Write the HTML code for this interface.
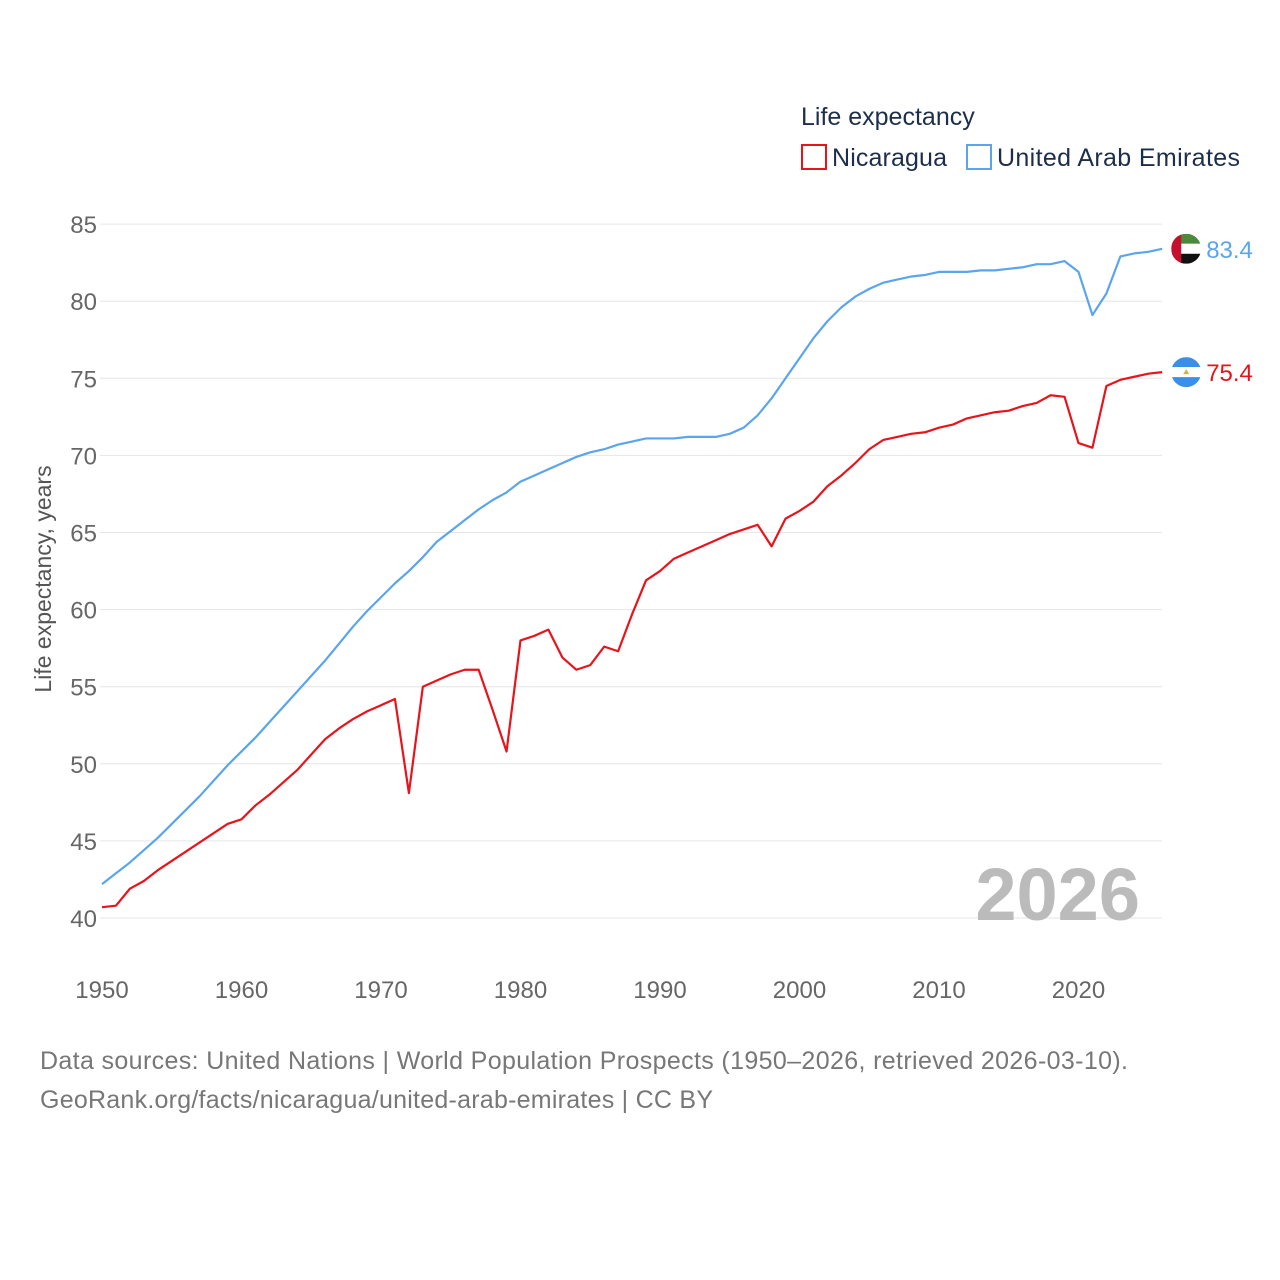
<!DOCTYPE html>
<html><head><meta charset="utf-8">
<style>
body{margin:0;background:#fff;font-family:"Liberation Sans",sans-serif;}
svg{display:block}
</style></head>
<body>
<svg id="chart" width="1280" height="1280" xmlns="http://www.w3.org/2000/svg">
<text x="801" y="125" font-size="25" fill="#1c2e4a">Life expectancy</text>
<g><rect x="802" y="145" width="24" height="24" fill="none" stroke="#e8141c" stroke-width="2"/><text x="832" y="166" font-size="25" fill="#1c2e4a" textLength="115">Nicaragua</text></g>
<g><rect x="967" y="145" width="24" height="24" fill="none" stroke="#5aa5ee" stroke-width="2"/><text x="997" y="166" font-size="25" fill="#1c2e4a" textLength="243">United Arab Emirates</text></g>
<text transform="translate(51,579) rotate(-90)" text-anchor="middle" font-size="23" fill="#555">Life expectancy, years</text>
<g id="grid"></g><g id="yticks"></g><g id="xticks"></g>
<text x="1140" y="920" text-anchor="end" font-size="74" font-weight="bold" fill="#bbb">2026</text>
<g id="series"></g>
<text x="40" y="1069" font-size="25" fill="#777" textLength="1088">Data sources: United Nations | World Population Prospects (1950–2026, retrieved 2026-03-10).</text>
<text x="40" y="1108" font-size="25" fill="#777" textLength="673">GeoRank.org/facts/nicaragua/united-arab-emirates | CC BY</text>
</svg>
<script>
const years=[];for(let y=1950;y<=2026;y++)years.push(y);
const nicaragua=[40.7,40.8,41.9,42.4,43.1,43.7,44.3,44.9,45.5,46.1,46.4,47.3,48.0,48.8,49.6,50.6,51.6,52.3,52.9,53.4,53.8,54.2,48.1,55.0,55.4,55.8,56.1,56.1,53.5,50.8,58.0,58.3,58.7,56.9,56.1,56.4,57.6,57.3,59.7,61.9,62.5,63.3,63.7,64.1,64.5,64.9,65.2,65.5,64.1,65.9,66.4,67.0,68.0,68.7,69.5,70.4,71.0,71.2,71.4,71.5,71.8,72.0,72.4,72.6,72.8,72.9,73.2,73.4,73.9,73.8,70.8,70.5,74.5,74.9,75.1,75.3,75.4];
const uae=[42.2,42.9,43.6,44.4,45.2,46.1,47.0,47.9,48.9,49.9,
50.8,51.7,52.7,53.7,54.7,55.7,56.7,57.8,58.9,59.9,
60.8,61.7,62.5,63.4,64.4,65.1,65.8,66.5,67.1,67.6,
68.3,68.7,69.1,69.5,69.9,70.2,70.4,70.7,70.9,71.1,
71.1,71.1,71.2,71.2,71.2,71.4,71.8,72.6,73.7,75.0,
76.3,77.6,78.7,79.6,80.3,80.8,81.2,81.4,81.6,81.7,
81.9,81.9,81.9,82.0,82.0,82.1,82.2,82.4,82.4,82.6,
81.9,79.1,80.5,82.9,83.1,83.2,83.4];
const yTicks=[40,45,50,55,60,65,70,75,80,85];
const xTicks=[1950,1960,1970,1980,1990,2000,2010,2020];
const X=y=>102+(y-1950)*13.95, Y=v=>918-(v-40)*15.42;
const NS="http://www.w3.org/2000/svg";
function mk(tag,attrs,parent){const e=document.createElementNS(NS,tag);for(const k in attrs)e.setAttribute(k,attrs[k]);parent.appendChild(e);return e;}
const grid=document.getElementById('grid'),yt=document.getElementById('yticks'),xt=document.getElementById('xticks'),ser=document.getElementById('series');
yTicks.forEach(v=>{
 const l=mk('line',{x1:100,x2:1162,y1:Y(v),y2:Y(v),stroke:'#e6e6e6','stroke-width':1},grid);
 
 
 const t=mk('text',{x:97,y:Y(v)+9,'text-anchor':'end','font-size':24,fill:'#666'},yt);t.textContent=v;
 
 
});
xTicks.forEach(v=>{
 const t=mk('text',{x:X(v),y:998,'text-anchor':'middle','font-size':24,fill:'#666'},xt);t.textContent=v;
 
 
});
function line(vals,color,name){
 const p=mk('polyline',{points:vals.map((v,i)=>X(years[i])+','+Y(v)).join(' '),fill:'none',stroke:color,'stroke-width':2.2,'stroke-linejoin':'round'},ser);
 
 
 const last=vals[vals.length-1],lx=X(years[vals.length-1]);
 const t=mk('text',{x:lx+44,y:Y(last)+9,'font-size':24,fill:color},ser);t.textContent=last.toFixed(1);
 
 
 return [lx+24,Y(last)];
}
const [ux,uy]=line(uae,'#5aa5ee','uae-line');
const [nx,ny]=line(nicaragua,'#e8141c','nicaragua-line');
const f1=mk('g',{},ser);


const c1=mk('clipPath',{id:'c1'},f1);mk('circle',{cx:ux,cy:uy,r:15},c1);
const g1=mk('g',{'clip-path':'url(#c1)'},f1);
mk('rect',{x:ux-15,y:uy-15,width:30,height:10,fill:'#4a8a3a'},g1);
mk('rect',{x:ux-15,y:uy-5,width:30,height:10,fill:'#fff'},g1);
mk('rect',{x:ux-15,y:uy+5,width:30,height:10,fill:'#111'},g1);
mk('rect',{x:ux-15,y:uy-15,width:10,height:30,fill:'#c8102e'},g1);
const f2=mk('g',{},ser);


const c2=mk('clipPath',{id:'c2'},f2);mk('circle',{cx:nx,cy:ny,r:15},c2);
const g2=mk('g',{'clip-path':'url(#c2)'},f2);
mk('rect',{x:nx-15,y:ny-15,width:30,height:10,fill:'#3a8fe8'},g2);
mk('rect',{x:nx-15,y:ny-5,width:30,height:10,fill:'#fff'},g2);
mk('rect',{x:nx-15,y:ny+5,width:30,height:10,fill:'#3a8fe8'},g2);
mk('polygon',{points:`${nx},${ny-3} ${nx-3},${ny+2} ${nx+3},${ny+2}`,fill:'#d4b24a'},g2);
</script>
</body></html>
